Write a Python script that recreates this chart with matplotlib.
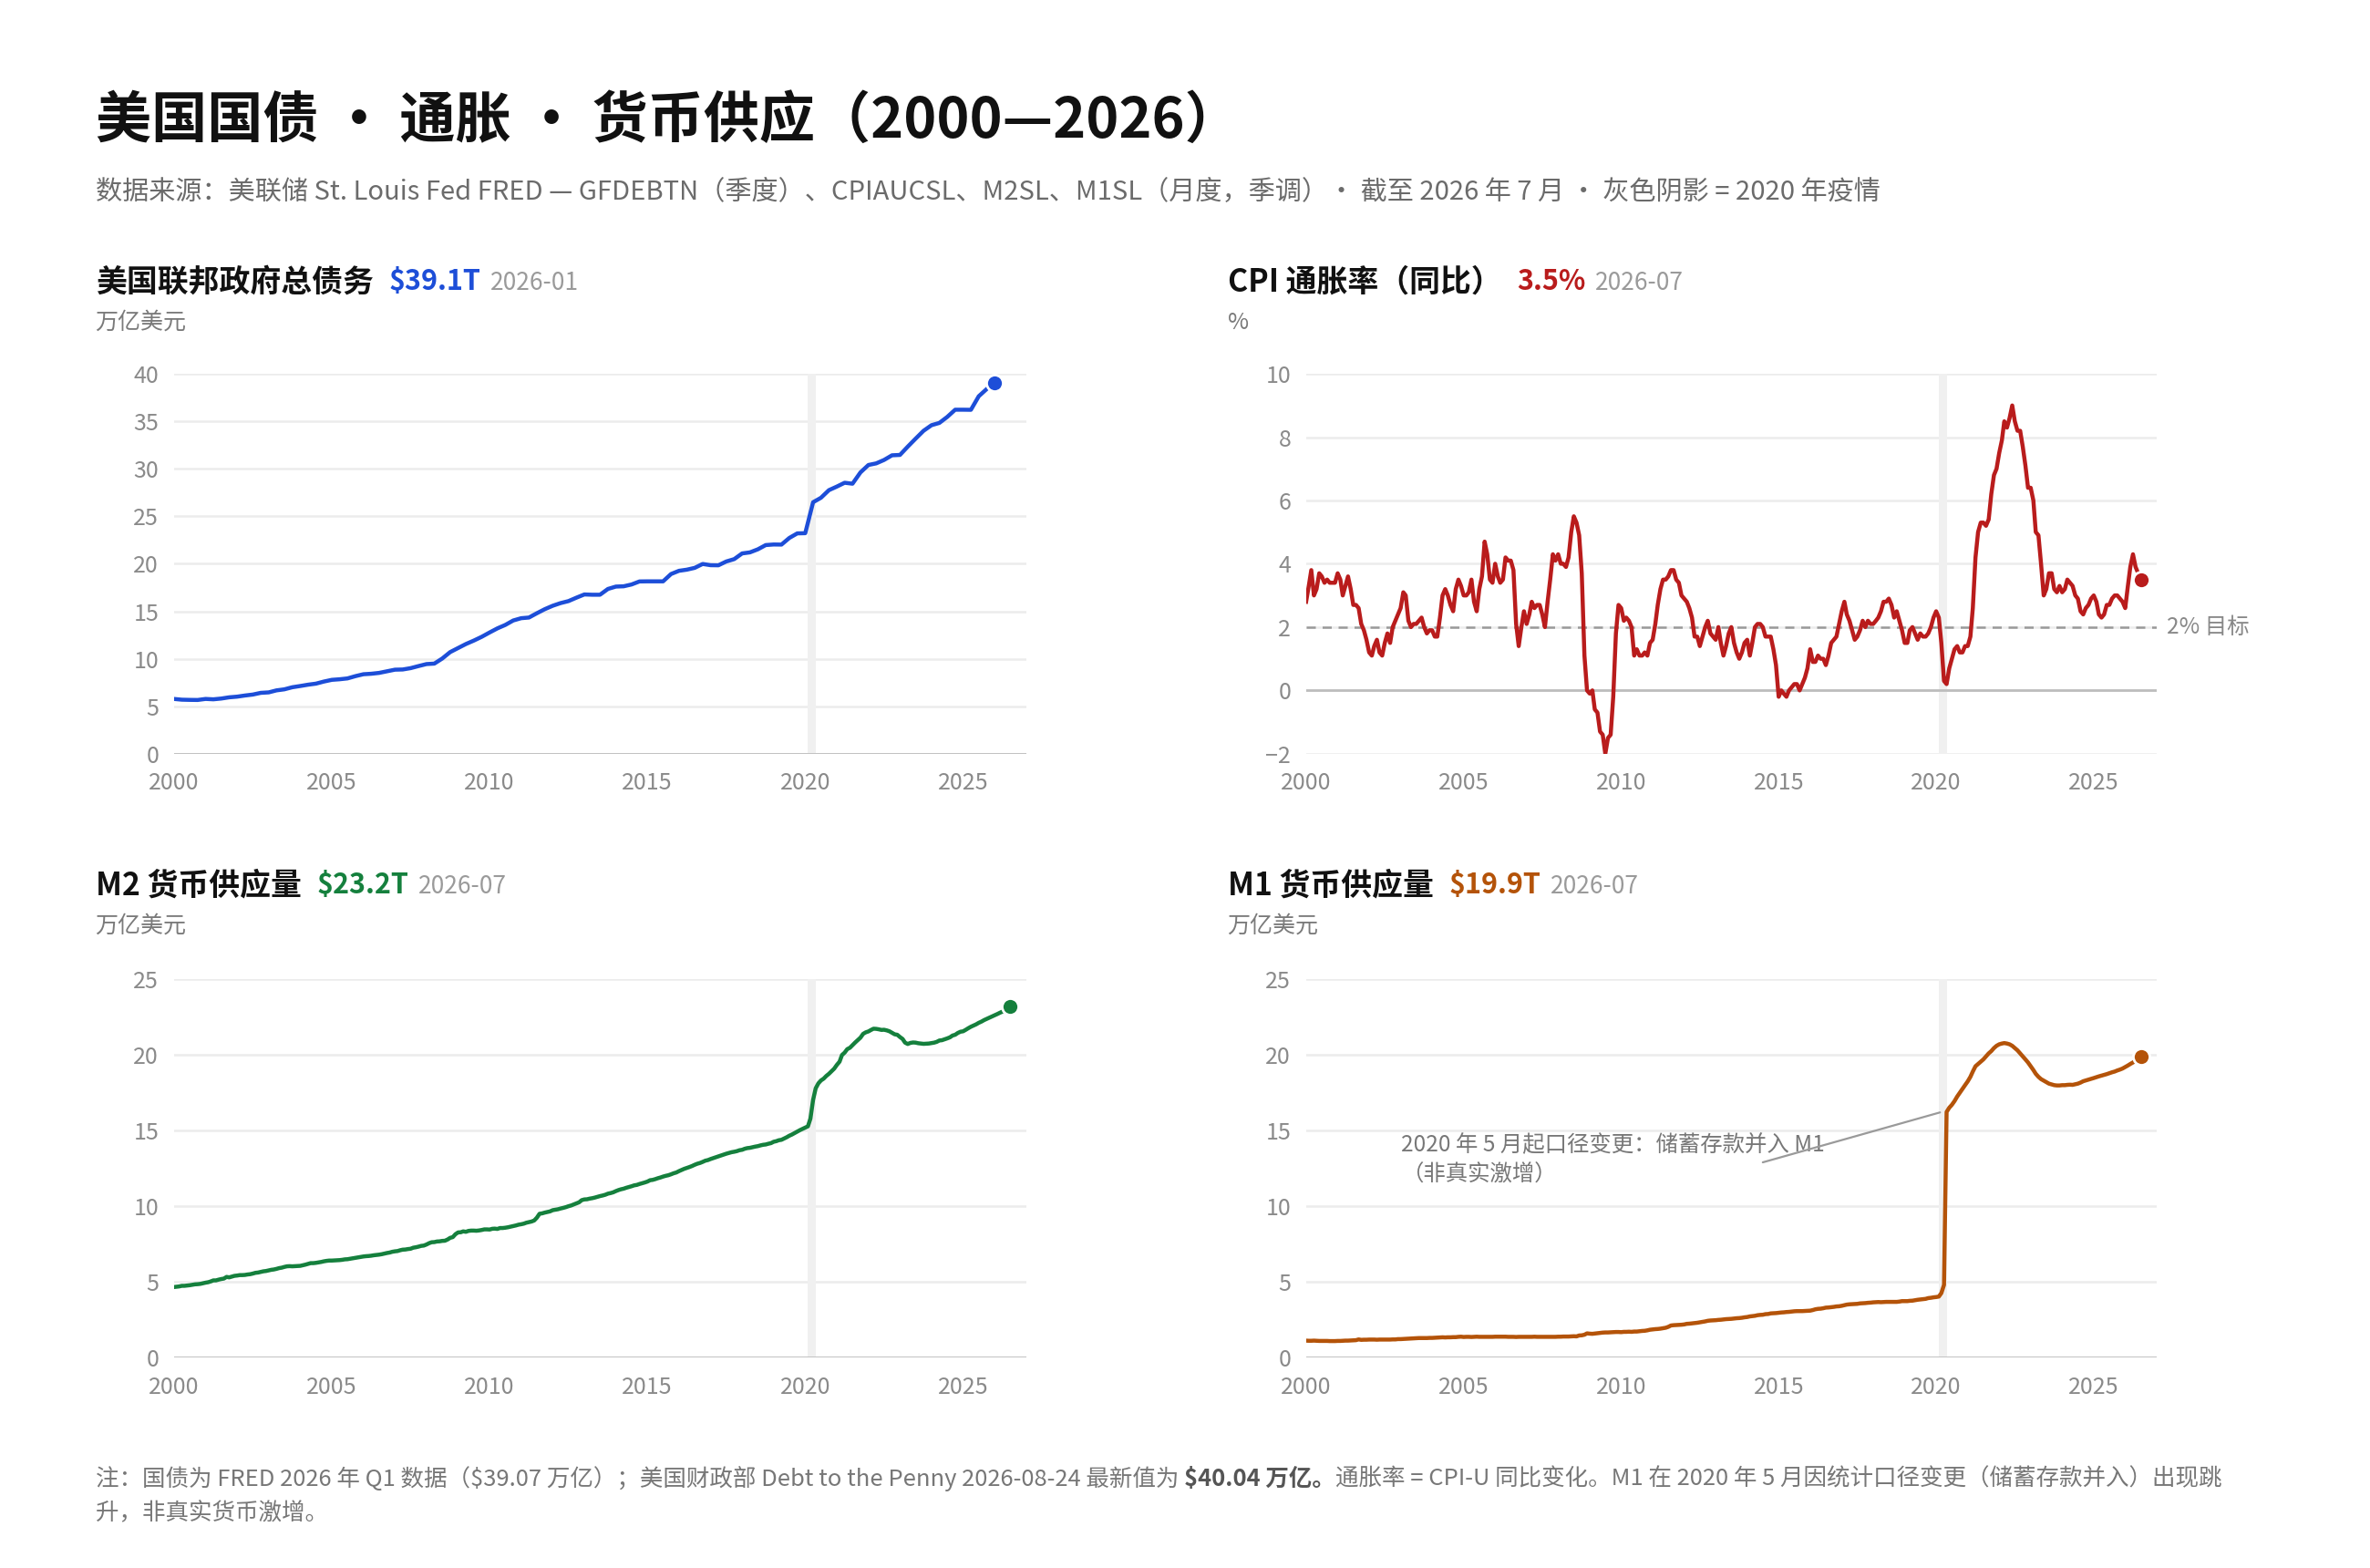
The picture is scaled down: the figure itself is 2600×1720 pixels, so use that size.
import pandas as pd
import matplotlib
matplotlib.use("Agg")
import matplotlib.pyplot as plt
import matplotlib.dates as mdates

plt.rcParams['font.family'] = ['Noto Sans CJK SC', 'DejaVu Sans']
plt.rcParams['text.parse_math'] = False

# ---- 数据（万亿美元 / %） ----
# 国债 GFDEBTN，季度，2000Q1 起
debt_values = [
    5.77, 5.69, 5.67, 5.66,   # 2000
    5.77, 5.73, 5.81, 5.94,   # 2001
    6.01, 6.13, 6.23, 6.41,   # 2002
    6.46, 6.67, 6.78, 7.00,   # 2003
    7.13, 7.27, 7.38, 7.60,   # 2004
    7.78, 7.84, 7.93, 8.17,   # 2005
    8.37, 8.42, 8.51, 8.68,   # 2006
    8.85, 8.87, 9.01, 9.23,   # 2007
    9.44, 9.49, 10.02, 10.70,  # 2008
    11.13, 11.55, 11.91, 12.31,  # 2009
    12.77, 13.20, 13.56, 14.03,  # 2010
    14.27, 14.34, 14.79, 15.22,  # 2011
    15.58, 15.86, 16.07, 16.43,  # 2012
    16.77, 16.74, 16.74, 17.35,  # 2013
    17.60, 17.63, 17.82, 18.14,  # 2014
    18.15, 18.15, 18.15, 18.92,  # 2015
    19.26, 19.38, 19.57, 19.98,  # 2016
    19.85, 19.84, 20.24, 20.49,  # 2017
    21.09, 21.20, 21.52, 21.97,  # 2018
    22.03, 22.02, 22.72, 23.20,  # 2019
    23.22, 26.48, 26.95, 27.75,  # 2020
    28.13, 28.53, 28.43, 29.62,  # 2021
    30.40, 30.57, 30.93, 31.42,  # 2022
    31.46, 32.33, 33.17, 34.00,  # 2023
    34.59, 34.83, 35.46, 36.22,  # 2024
    36.22, 36.21, 37.64, 38.40,  # 2025
    39.07,                       # 2026
]

# CPI 同比，月度，2000-01 起
cpi_values = [
    2.8, 3.3, 3.8, 3.0, 3.2, 3.7, 3.6, 3.4, 3.5, 3.4, 3.4, 3.4,   # 2000
    3.7, 3.5, 3.0, 3.3, 3.6, 3.2, 2.7, 2.7, 2.6, 2.1, 1.9, 1.6,   # 2001
    1.2, 1.1, 1.4, 1.6, 1.2, 1.1, 1.5, 1.8, 1.5, 2.0, 2.2, 2.4,   # 2002
    2.6, 3.1, 3.0, 2.2, 2.0, 2.1, 2.1, 2.2, 2.3, 2.0, 1.8, 1.9,   # 2003
    1.9, 1.7, 1.7, 2.3, 3.0, 3.2, 3.0, 2.7, 2.5, 3.2, 3.5, 3.3,   # 2004
    3.0, 3.0, 3.1, 3.5, 2.8, 2.5, 3.2, 3.6, 4.7, 4.3, 3.5, 3.4,   # 2005
    4.0, 3.6, 3.4, 3.5, 4.2, 4.1, 4.1, 3.8, 2.1, 1.4, 2.0, 2.5,   # 2006
    2.1, 2.4, 2.8, 2.6, 2.7, 2.7, 2.4, 2.0, 2.8, 3.5, 4.3, 4.1,   # 2007
    4.3, 4.0, 4.0, 3.9, 4.2, 5.0, 5.5, 5.3, 4.9, 3.7, 1.1, 0.0,   # 2008
    -0.1, 0.0, -0.6, -0.7, -1.3, -1.4, -2.0, -1.5, -1.4, -0.2, 1.8, 2.7,  # 2009
    2.6, 2.2, 2.3, 2.2, 2.0, 1.1, 1.3, 1.1, 1.1, 1.2, 1.1, 1.5,   # 2010
    1.6, 2.1, 2.7, 3.2, 3.5, 3.5, 3.6, 3.8, 3.8, 3.5, 3.4, 3.0,   # 2011
    2.9, 2.8, 2.6, 2.3, 1.7, 1.7, 1.4, 1.7, 2.0, 2.2, 1.8, 1.7,   # 2012
    1.6, 2.0, 1.5, 1.1, 1.4, 1.8, 2.0, 1.5, 1.2, 1.0, 1.2, 1.5,   # 2013
    1.6, 1.1, 1.5, 2.0, 2.1, 2.1, 2.0, 1.7, 1.7, 1.7, 1.3, 0.8,   # 2014
    -0.2, 0.0, -0.1, -0.2, 0.0, 0.1, 0.2, 0.2, 0.0, 0.2, 0.4, 0.7,  # 2015
    1.3, 0.9, 0.9, 1.1, 1.0, 1.0, 0.8, 1.1, 1.5, 1.6, 1.7, 2.1,   # 2016
    2.5, 2.8, 2.4, 2.2, 1.9, 1.6, 1.7, 1.9, 2.2, 2.0, 2.2, 2.1,   # 2017
    2.1, 2.2, 2.3, 2.5, 2.8, 2.8, 2.9, 2.7, 2.3, 2.5, 2.2, 1.9,   # 2018
    1.5, 1.5, 1.9, 2.0, 1.8, 1.6, 1.8, 1.7, 1.7, 1.8, 2.0, 2.3,   # 2019
    2.5, 2.3, 1.5, 0.3, 0.2, 0.7, 1.0, 1.3, 1.4, 1.2, 1.2, 1.4,   # 2020
    1.4, 1.7, 2.6, 4.2, 5.0, 5.3, 5.3, 5.2, 5.4, 6.2, 6.8, 7.0,   # 2021
    7.5, 7.9, 8.5, 8.3, 8.6, 9.0, 8.5, 8.2, 8.2, 7.7, 7.1, 6.4,   # 2022
    6.4, 6.0, 5.0, 4.9, 4.0, 3.0, 3.2, 3.7, 3.7, 3.2, 3.1, 3.3,   # 2023
    3.1, 3.2, 3.5, 3.4, 3.3, 3.0, 2.9, 2.5, 2.4, 2.6, 2.7, 2.9,   # 2024
    3.0, 2.8, 2.4, 2.3, 2.4, 2.7, 2.7, 2.9, 3.0, 3.0, 2.9, 2.8,   # 2025
    2.6, 3.3, 3.9, 4.3, 3.9, 3.7, 3.5,                            # 2026
]

# M2，月度，2000-01 起
m2_values = [
    4.66, 4.68, 4.70, 4.74, 4.74, 4.76, 4.78, 4.81, 4.84, 4.85, 4.87, 4.91,  # 2000
    4.95, 4.98, 5.03, 5.10, 5.10, 5.15, 5.19, 5.22, 5.33, 5.30, 5.35, 5.40,  # 2001
    5.42, 5.45, 5.45, 5.46, 5.49, 5.51, 5.55, 5.60, 5.62, 5.66, 5.70, 5.72,  # 2002
    5.76, 5.80, 5.82, 5.86, 5.91, 5.94, 5.99, 6.03, 6.04, 6.03, 6.04, 6.05,  # 2003
    6.06, 6.10, 6.14, 6.19, 6.24, 6.24, 6.26, 6.29, 6.32, 6.36, 6.39, 6.41,  # 2004
    6.41, 6.42, 6.43, 6.44, 6.46, 6.49, 6.50, 6.53, 6.56, 6.59, 6.62, 6.65,  # 2005
    6.68, 6.70, 6.71, 6.73, 6.76, 6.78, 6.80, 6.83, 6.87, 6.91, 6.94, 6.99,  # 2006
    7.02, 7.04, 7.09, 7.13, 7.14, 7.17, 7.19, 7.26, 7.29, 7.33, 7.38, 7.40,  # 2007
    7.47, 7.56, 7.62, 7.63, 7.67, 7.68, 7.71, 7.72, 7.80, 7.91, 7.96, 8.15,  # 2008
    8.27, 8.28, 8.34, 8.31, 8.37, 8.39, 8.39, 8.38, 8.40, 8.43, 8.47, 8.47,  # 2009
    8.46, 8.51, 8.52, 8.50, 8.56, 8.56, 8.58, 8.61, 8.65, 8.69, 8.73, 8.78,  # 2010
    8.81, 8.85, 8.91, 8.95, 8.99, 9.06, 9.24, 9.50, 9.53, 9.58, 9.62, 9.66,  # 2011
    9.74, 9.77, 9.80, 9.85, 9.89, 9.94, 10.00, 10.05, 10.12, 10.19, 10.26, 10.40,  # 2012
    10.45, 10.46, 10.50, 10.53, 10.57, 10.62, 10.67, 10.71, 10.76, 10.83, 10.87, 10.92,  # 2013
    11.00, 11.07, 11.12, 11.16, 11.22, 11.27, 11.32, 11.38, 11.41, 11.47, 11.52, 11.57,  # 2014
    11.63, 11.72, 11.74, 11.79, 11.85, 11.90, 11.96, 12.01, 12.05, 12.11, 12.18, 12.23,  # 2015
    12.32, 12.40, 12.47, 12.53, 12.59, 12.66, 12.74, 12.81, 12.86, 12.93, 13.01, 13.05,  # 2016
    13.12, 13.18, 13.24, 13.30, 13.35, 13.41, 13.47, 13.52, 13.57, 13.60, 13.64, 13.70,  # 2017
    13.73, 13.80, 13.84, 13.86, 13.90, 13.94, 13.97, 14.02, 14.06, 14.08, 14.13, 14.17,  # 2018
    14.26, 14.30, 14.36, 14.39, 14.47, 14.56, 14.66, 14.74, 14.84, 14.93, 15.03, 15.11,  # 2019
    15.19, 15.28, 15.79, 17.03, 17.79, 18.12, 18.31, 18.43, 18.61, 18.75, 18.92, 19.09,  # 2020
    19.34, 19.55, 19.99, 20.15, 20.38, 20.47, 20.64, 20.82, 20.98, 21.14, 21.39, 21.49,  # 2021
    21.55, 21.65, 21.73, 21.72, 21.69, 21.65, 21.66, 21.62, 21.56, 21.46, 21.36, 21.33,  # 2022
    21.18, 21.05, 20.81, 20.72, 20.79, 20.82, 20.81, 20.77, 20.75, 20.73, 20.74, 20.75,  # 2023
    20.78, 20.81, 20.86, 20.95, 20.97, 21.03, 21.09, 21.16, 21.28, 21.33, 21.45, 21.53,  # 2024
    21.56, 21.66, 21.76, 21.86, 21.94, 22.02, 22.12, 22.20, 22.30, 22.38, 22.47, 22.55,  # 2025
    22.62, 22.70, 22.78, 22.86, 22.96, 23.08, 23.20,  # 2026
]

# M1，月度，2000-01 起
m1_values = [
    1.12, 1.11, 1.11, 1.12, 1.11, 1.10, 1.10, 1.10, 1.10, 1.09, 1.09, 1.09,  # 2000
    1.10, 1.10, 1.11, 1.12, 1.12, 1.13, 1.14, 1.15, 1.20, 1.17, 1.18, 1.18,  # 2001
    1.19, 1.19, 1.19, 1.18, 1.19, 1.19, 1.19, 1.19, 1.19, 1.20, 1.20, 1.22,  # 2002
    1.22, 1.23, 1.24, 1.25, 1.26, 1.27, 1.28, 1.29, 1.29, 1.29, 1.29, 1.30,  # 2003
    1.30, 1.31, 1.32, 1.33, 1.34, 1.33, 1.34, 1.34, 1.35, 1.35, 1.37, 1.38,  # 2004
    1.36, 1.37, 1.37, 1.36, 1.37, 1.38, 1.37, 1.37, 1.37, 1.37, 1.37, 1.37,  # 2005
    1.38, 1.38, 1.38, 1.38, 1.38, 1.37, 1.37, 1.37, 1.36, 1.37, 1.37, 1.37,  # 2006
    1.37, 1.37, 1.37, 1.38, 1.37, 1.37, 1.37, 1.37, 1.37, 1.37, 1.37, 1.37,  # 2007
    1.38, 1.38, 1.39, 1.39, 1.39, 1.40, 1.41, 1.40, 1.46, 1.47, 1.51, 1.60,  # 2008
    1.58, 1.57, 1.59, 1.61, 1.64, 1.65, 1.66, 1.66, 1.67, 1.68, 1.69, 1.69,  # 2009
    1.68, 1.70, 1.70, 1.71, 1.70, 1.72, 1.72, 1.74, 1.76, 1.77, 1.80, 1.84,  # 2010
    1.86, 1.88, 1.89, 1.91, 1.94, 1.97, 2.03, 2.12, 2.14, 2.15, 2.16, 2.17,  # 2011
    2.19, 2.23, 2.24, 2.26, 2.28, 2.30, 2.33, 2.36, 2.39, 2.43, 2.45, 2.46,  # 2012
    2.47, 2.49, 2.50, 2.52, 2.54, 2.55, 2.56, 2.58, 2.60, 2.61, 2.63, 2.66,  # 2013
    2.68, 2.72, 2.74, 2.76, 2.80, 2.82, 2.83, 2.87, 2.88, 2.92, 2.93, 2.94,  # 2014
    2.96, 2.98, 2.99, 3.01, 3.02, 3.04, 3.06, 3.07, 3.07, 3.07, 3.08, 3.09,  # 2015
    3.10, 3.14, 3.19, 3.22, 3.23, 3.26, 3.30, 3.31, 3.33, 3.35, 3.38, 3.39,  # 2016
    3.42, 3.46, 3.50, 3.52, 3.53, 3.54, 3.55, 3.58, 3.59, 3.60, 3.62, 3.63,  # 2017
    3.65, 3.66, 3.67, 3.66, 3.67, 3.68, 3.68, 3.68, 3.68, 3.68, 3.70, 3.73,  # 2018
    3.73, 3.73, 3.75, 3.76, 3.79, 3.82, 3.84, 3.86, 3.88, 3.93, 3.95, 3.98,  # 2019
    4.00, 4.03, 4.26, 4.80, 16.23, 16.51, 16.70, 16.95, 17.25, 17.50, 17.75, 18.00,  # 2020
    18.25, 18.55, 18.90, 19.25, 19.40, 19.55, 19.70, 19.90, 20.10, 20.25, 20.45, 20.60,  # 2021
    20.70, 20.75, 20.78, 20.75, 20.70, 20.60, 20.45, 20.30, 20.10, 19.90, 19.70, 19.50,  # 2022
    19.25, 19.00, 18.75, 18.55, 18.40, 18.30, 18.20, 18.10, 18.05, 18.00, 17.98, 17.98,  # 2023
    18.00, 18.00, 18.02, 18.03, 18.02, 18.06, 18.10, 18.17, 18.26, 18.31, 18.36, 18.41,  # 2024
    18.47, 18.53, 18.58, 18.63, 18.68, 18.73, 18.79, 18.85, 18.90, 18.97, 19.03, 19.10,  # 2025
    19.20, 19.30, 19.40, 19.50, 19.60, 19.70, 19.90,  # 2026
]

panel_titles = ["美国联邦政府总债务", "CPI 通胀率（同比）", "M2 货币供应量", "M1 货币供应量"]
panel_latest = ["$39.1T", "3.5%", "$23.2T", "$19.9T"]
panel_dates = ["2026-01", "2026-07", "2026-07", "2026-07"]
panel_units = ["万亿美元", "%", "万亿美元", "万亿美元"]
colors = ["#1d4ed8", "#b91c1c", "#15803d", "#b45309"]

debt_dates = pd.date_range("2000-01-01", periods=len(debt_values), freq="QS")
month_dates = pd.date_range("2000-01-01", periods=len(cpi_values), freq="MS")

fig = plt.figure(figsize=(13, 8.6), dpi=200)
fig.patch.set_facecolor("white")

# 标题
fig.text(0.0402, 0.9228, "美国国债 · 通胀 · 货币供应（2000—2026）", fontsize=22,
         fontweight="bold", color="#111111", va="center")
fig.text(0.0402, 0.8774,
         "数据来源：美联储 St. Louis Fed FRED — GFDEBTN（季度）、CPIAUCSL、M2SL、M1SL（月度，季调）· "
         "截至 2026 年 7 月 · 灰色阴影 = 2020 年疫情",
         fontsize=10.5, color="#6b6b6b", va="center")

axes_pos = [
    [0.0734, 0.5193, 0.3596, 0.2423],
    [0.5511, 0.5193, 0.3589, 0.2423],
    [0.0734, 0.1342, 0.3596, 0.2413],
    [0.5511, 0.1342, 0.3589, 0.2413],
]
head_pos = [(0.0402, 0.8205, 0.7944), (0.5179, 0.8205, 0.7944),
            (0.0402, 0.4353, 0.4093), (0.5179, 0.4353, 0.4093)]
ylims = [(0, 40), (-2, 10), (0, 25), (0, 25)]
yticks = [range(0, 41, 5), range(-2, 11, 2), range(0, 26, 5), range(0, 26, 5)]
series = [(debt_dates, debt_values), (month_dates, cpi_values),
          (month_dates, m2_values), (month_dates, m1_values)]

axes = []
for i in range(4):
    ax = fig.add_axes(axes_pos[i])
    axes.append(ax)
    ax.set_xlim(pd.Timestamp("2000-01-01"), pd.Timestamp("2027-01-01"))
    ax.set_ylim(*ylims[i])
    ax.set_yticks(list(yticks[i]))
    ax.set_xticks([pd.Timestamp(f"{y}-01-01") for y in range(2000, 2026, 5)])
    ax.xaxis.set_major_formatter(mdates.DateFormatter("%Y"))
    for s in ax.spines.values():
        s.set_visible(False)
    ax.tick_params(length=0, colors="#8a8a8a", labelsize=9)
    ax.tick_params(axis="y", pad=6)
    ax.tick_params(axis="x", pad=7)
    for t in yticks[i]:
        ax.axhline(t, color="#ececec", lw=0.9, zorder=0)
    ax.axhline(0, color="#bdbdbd", lw=1.0, zorder=1)
    ax.axvspan(pd.Timestamp("2020-02-01"), pd.Timestamp("2020-05-01"),
               color="#f0f0f0", lw=0, zorder=0.5)

    x, y = series[i]
    ax.plot(x, y, color=colors[i], lw=1.6, zorder=3)
    ax.plot(x[-1], y[-1], "o", ms=6.5, color=colors[i], mec="white", mew=1.0,
            zorder=5, clip_on=False)

    # 小标题：名称 + 最新值 + 日期
    hx, hy, uy = head_pos[i]
    t1 = fig.text(hx, hy, panel_titles[i], fontsize=12.2, fontweight="bold",
                  color="#111111", va="center")
    t2 = ax.annotate(panel_latest[i], xy=(1, 0.5), xycoords=t1, xytext=(6, 0),
                     textcoords="offset points", va="center", fontsize=11,
                     fontweight="bold", color=colors[i], annotation_clip=False)
    ax.annotate(panel_dates[i], xy=(1, 0.45), xycoords=t2, xytext=(4, 0),
                textcoords="offset points", va="center", fontsize=9.5,
                color="#9a9a9a", annotation_clip=False)
    fig.text(hx, uy, panel_units[i], fontsize=9, color="#7a7a7a", va="center")

# CPI 2% 目标线
ax_cpi = axes[1]
ax_cpi.axhline(2, color="#9a9a9a", lw=0.9, ls=(0, (4, 3)), zorder=2)
ax_cpi.text(1.012, 2, "2% 目标", transform=ax_cpi.get_yaxis_transform(),
            va="center", ha="left", fontsize=8.8, color="#888888")

# M1 口径变更注释
ax_m1 = axes[3]
ax_m1.text(pd.Timestamp("2003-01-10"), 13.05,
           "2020 年 5 月起口径变更：储蓄存款并入 M1\n（非真实激增）",
           fontsize=8.8, color="#777777", va="center", ha="left", linespacing=1.35, zorder=4)
ax_m1.annotate("", xy=(pd.Timestamp("2020-02-15"), 16.2), xytext=(pd.Timestamp("2014-07-01"), 12.9),
               arrowprops=dict(arrowstyle="-", color="#9a9a9a", lw=0.8, shrinkA=0, shrinkB=0),
               zorder=4)

# 底部注释
note_size = 9.2
n1 = fig.text(0.0402, 0.0569,
              "注：国债为 FRED 2026 年 Q1 数据（$39.07 万亿）；美国财政部 Debt to the Penny 2026-08-24 最新值为 ",
              fontsize=note_size, color="#777777", va="center")
n2 = axes[0].annotate("$40.04 万亿。", xy=(1, 0.5), xycoords=n1, va="center",
                      fontsize=note_size, fontweight="bold", color="#555555", annotation_clip=False)
axes[0].annotate("通胀率 = CPI-U 同比变化。M1 在 2020 年 5 月因统计口径变更（储蓄存款并入）出现跳",
                 xy=(1, 0.5), xycoords=n2, va="center", fontsize=note_size, color="#777777",
                 annotation_clip=False)
fig.text(0.0402, 0.0347, "升，非真实货币激增。", fontsize=note_size, color="#777777", va="center")

fig.savefig("out.png", dpi=200, facecolor="white")
